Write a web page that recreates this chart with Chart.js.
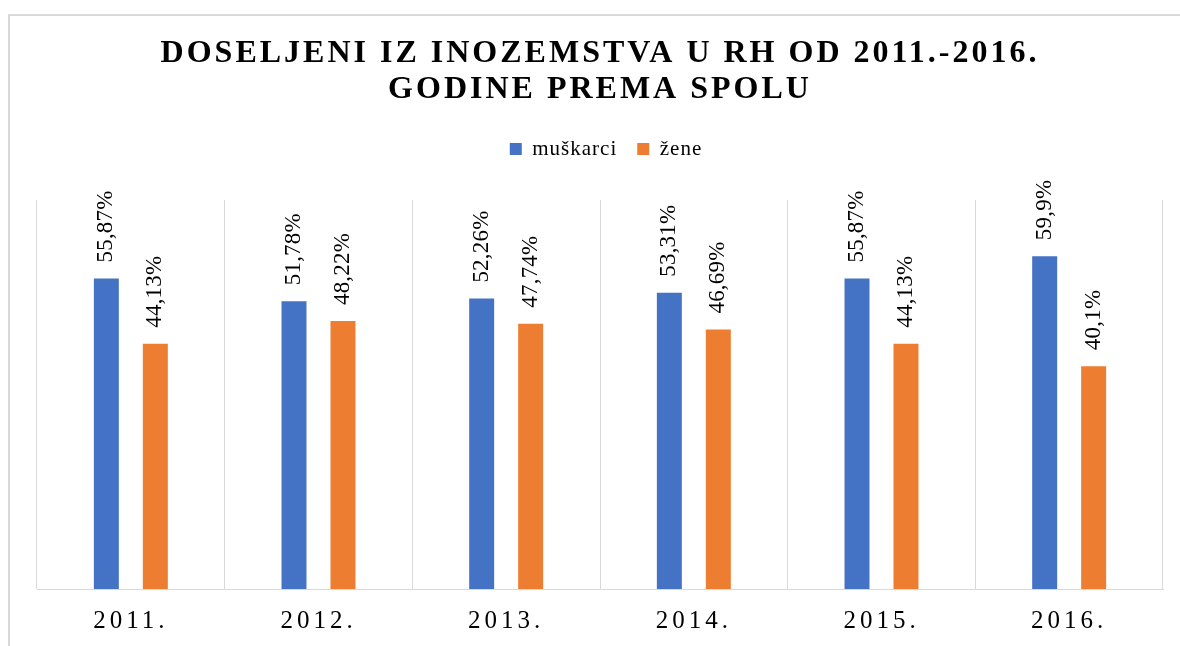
<!DOCTYPE html>
<html>
<head>
<meta charset="utf-8">
<script src="https://cdn.jsdelivr.net/npm/chart.js@4.4.1/dist/chart.umd.min.js"></script>
<style>
  html, body { margin: 0; padding: 0; background: #ffffff; }
  #wrap { position: relative; width: 1180px; height: 646px; overflow: hidden; }
  #c { position: absolute; left: 0; top: 0; }
  #frame { position: absolute; left: 8px; top: 14px; right: 0; bottom: 0;
           border-left: 2px solid #d9d9d9; border-top: 2px solid #d9d9d9; pointer-events: none; }
</style>
</head>
<body>
<div id="wrap">
  <canvas id="c" width="1180" height="646"></canvas>
  <div id="frame"></div>
</div>
<script>
// ---- data ----
const categories = ['2011.', '2012.', '2013.', '2014.', '2015.', '2016.'];
const seriesNames = ['muškarci', 'žene'];
const muskarci = [55.87, 51.78, 52.26, 53.31, 55.87, 59.9];
const zene = [44.13, 48.22, 47.74, 46.69, 44.13, 40.1];
const titleLines = ['DOSELJENI IZ INOZEMSTVA U RH OD 2011.-2016.', 'GODINE PREMA SPOLU'];

const SERIF = '"Liberation Serif", "Times New Roman", serif';

const fmt = v => String(v).replace('.', ',') + '%';

const spacingPlugin = {
  id: 'spacing',
  afterLayout(chart) {
    const wrap = (obj, method, sp) => {
      if (!obj || obj['_w_' + method]) return;
      const orig = obj[method];
      obj[method] = function (...args) {
        const ctx = chart.ctx;
        const prev = ctx.letterSpacing;
        ctx.letterSpacing = sp;
        const r = orig.apply(this, args);
        ctx.letterSpacing = prev;
        return r;
      };
      obj['_w_' + method] = true;
    };
    wrap(chart.titleBlock, 'draw', '3px');
    wrap(chart.scales.x, 'drawLabels', '4px');
    wrap(chart.legend, 'draw', '1px');
  }
};

const barLabels = {
  id: 'barLabels',
  afterDatasetsDraw(chart) {
    const ctx = chart.ctx;
    chart.data.datasets.forEach((ds, di) => {
      const meta = chart.getDatasetMeta(di);
      meta.data.forEach((bar, i) => {
        ctx.save();
        ctx.translate(bar.x, bar.y - 16);
        ctx.rotate(-Math.PI / 2);
        ctx.font = '23px ' + SERIF;
        ctx.letterSpacing = '0.2px';
        ctx.fillStyle = '#000000';
        ctx.textAlign = 'left';
        ctx.textBaseline = 'middle';
        ctx.fillText(fmt(ds.data[i]), 0, 0);
        ctx.restore();
      });
    });
  }
};

new Chart(document.getElementById('c'), {
  type: 'bar',
  data: {
    labels: categories,
    datasets: [
      { label: seriesNames[0], data: muskarci, backgroundColor: '#4472C4', borderWidth: 0,
        categoryPercentage: 0.522, barPercentage: 0.51 },
      { label: seriesNames[1], data: zene, backgroundColor: '#ED7D31', borderWidth: 0,
        categoryPercentage: 0.522, barPercentage: 0.51 }
    ]
  },
  options: {
    responsive: false,
    animation: false,
    layout: { padding: { left: 37, right: 17, top: 0, bottom: 0 } },
    plugins: {
      title: {
        display: true,
        text: titleLines,
        color: '#000000',
        font: { family: SERIF, size: 32, weight: 'bold', lineHeight: 1.125 },
        padding: { top: 36, bottom: 10.5 }
      },
      legend: {
        display: true,
        position: 'top',
        labels: {
          color: '#000000',
          font: { family: SERIF, size: 21 },
          boxWidth: 12,
          boxHeight: 12,
          padding: 20
        }
      },
      tooltip: { enabled: false }
    },
    scales: {
      x: {
        type: 'category',
        position: 'bottom',
        grid: { display: true, offset: true, color: '#d9d9d9', lineWidth: 1, drawTicks: false },
        border: { display: true, color: '#d9d9d9', width: 1 },
        ticks: { color: '#000000', font: { family: SERIF, size: 25 }, padding: 17,
                 maxRotation: 0, autoSkip: false },
        afterFit(scale) { scale.height = 57; }
      },
      xTop: {
        type: 'category',
        position: 'top',
        display: true,
        grid: { display: false },
        border: { display: false },
        ticks: { display: false },
        afterFit(scale) { scale.height = 30.5; }
      },
      y: {
        display: false,
        min: 0,
        max: 70
      }
    }
  },
  plugins: [spacingPlugin, barLabels]
});
</script>
</body>
</html>
